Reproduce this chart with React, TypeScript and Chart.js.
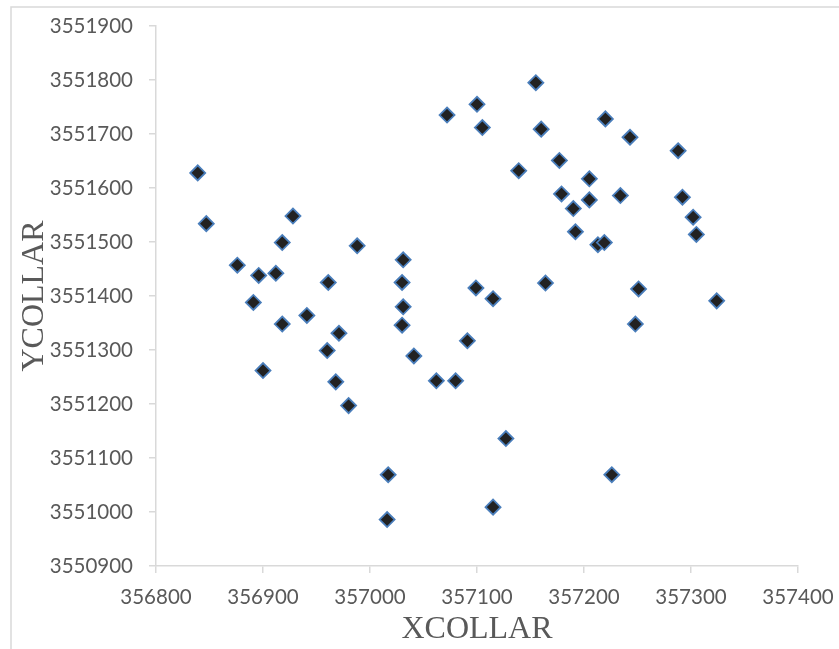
import React, { useEffect, useRef } from "react";
import { Chart, registerables } from "chart.js";

Chart.register(...registerables);

// Collar coordinates (easting / northing) of the drill holes
const xCollar: number[] = [
  356839, 356847, 356876, 356896, 356912, 356891, 356928, 356918, 356961, 356988,
  357031, 357030, 357031, 356918, 356941, 357030, 356971, 356960, 356900, 356968,
  356980, 357041, 357017, 357016, 357155, 357100, 357072, 357105, 357160, 357220,
  357243, 357288, 357177, 357139, 357205, 357179, 357205, 357234, 357190, 357292,
  357302, 357305, 357192, 357213, 357219, 357099, 357115, 357164, 357251, 357324,
  357248, 357091, 357062, 357080, 357127, 357226, 357115,
];
const yCollar: number[] = [
  3551628, 3551534, 3551457, 3551438, 3551442, 3551388, 3551548, 3551499, 3551425, 3551493,
  3551467, 3551425, 3551380, 3551348, 3551364, 3551346, 3551331, 3551299, 3551262, 3551241,
  3551197, 3551289, 3551069, 3550986, 3551795, 3551755, 3551735, 3551712, 3551709, 3551728,
  3551694, 3551669, 3551651, 3551632, 3551617, 3551589, 3551578, 3551586, 3551562, 3551583,
  3551546, 3551514, 3551519, 3551495, 3551499, 3551415, 3551395, 3551424, 3551413, 3551391,
  3551348, 3551317, 3551243, 3551243, 3551136, 3551069, 3551009,
];

const xMin = 356800;
const xMax = 357400;
const xStep = 100;
const yMin = 3550900;
const yMax = 3551900;
const yStep = 100;

const xTitle = "XCOLLAR";
const yTitle = "YCOLLAR";

const axisGray = "#d9d9d9";
const textGray = "#595959";

// Light frame around the whole chart
const framePlugin = {
  id: "frame",
  beforeDraw(chart: Chart) {
    const { ctx } = chart;
    ctx.save();
    ctx.strokeStyle = axisGray;
    ctx.lineWidth = 1.5;
    ctx.strokeRect(11, 7, chart.width + 20, chart.height + 20);
    ctx.restore();
  },
};

export default function App() {
  const canvasRef = useRef<HTMLCanvasElement | null>(null);

  useEffect(() => {
    document.body.style.margin = "0";
    const canvas = canvasRef.current;
    if (!canvas) return;

    const points = xCollar.map((x, i) => ({ x, y: yCollar[i] }));

    const tickFont = { family: "Lato", size: 20.5 };
    const titleFont = { family: "Liberation Serif", size: 32, lineHeight: 1.2 };

    const chart = new Chart(canvas, {
      type: "scatter",
      data: {
        datasets: [
          {
            label: yTitle,
            data: points,
            pointStyle: "rectRot",
            pointRadius: 7.5,
            pointBackgroundColor: "#222222",
            pointBorderColor: "#4a7ebb",
            pointBorderWidth: 1.8,
          },
        ],
      },
      options: {
        animation: false,
        responsive: false,
        maintainAspectRatio: false,
        layout: { padding: { left: 0, right: 41, top: 26, bottom: 0 } },
        plugins: {
          legend: { display: false },
          tooltip: { enabled: false },
        },
        scales: {
          x: {
            type: "linear",
            min: xMin,
            max: xMax,
            ticks: {
              stepSize: xStep,
              color: textGray,
              font: tickFont,
              padding: 12,
              maxRotation: 0,
              callback: (v: any) => String(v),
            },
            grid: {
              drawOnChartArea: false,
              drawTicks: true,
              tickLength: 7,
              color: axisGray,
              lineWidth: 1.5,
            },
            border: { color: axisGray, width: 1.5 },
            title: {
              display: true,
              text: xTitle,
              color: textGray,
              font: titleFont,
              padding: 0,
            },
            afterFit: (scale: any) => {
              scale.height = 83;
              scale.paddingLeft = 0;
              scale.paddingRight = 0;
            },
          },
          y: {
            type: "linear",
            min: yMin,
            max: yMax,
            ticks: {
              stepSize: yStep,
              color: textGray,
              font: tickFont,
              padding: 16,
              callback: (v: any) => String(v),
            },
            grid: {
              drawOnChartArea: false,
              drawTicks: true,
              tickLength: 7,
              color: axisGray,
              lineWidth: 1.5,
            },
            border: { color: axisGray, width: 1.5 },
            title: {
              display: true,
              text: yTitle,
              color: textGray,
              font: titleFont,
              padding: { top: 15, bottom: 0 },
            },
            afterFit: (scale: any) => {
              scale.width = 156;
              scale.paddingTop = 0;
              scale.paddingBottom = 0;
            },
          },
        },
      },
      plugins: [framePlugin],
    });

    return () => chart.destroy();
  }, []);

  return (
    <div style={{ width: 839, height: 649 }}>
      <canvas ref={canvasRef} width={839} height={649} style={{ display: "block" }} />
    </div>
  );
}
